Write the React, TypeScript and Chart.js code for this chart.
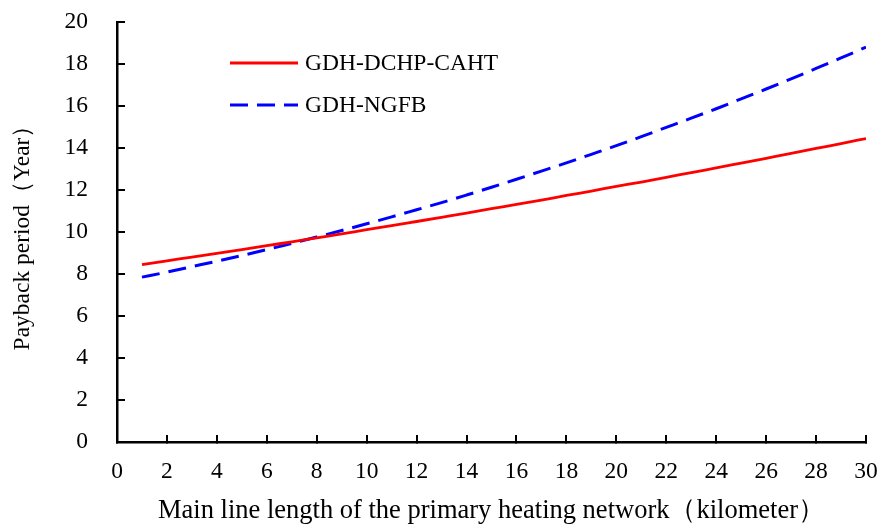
import React, { useEffect, useRef } from "react";
import { Chart, registerables } from "chart.js";

Chart.register(...registerables);

const lengthKm = [1, 2, 3, 4, 5, 6, 7, 8, 9, 10, 11, 12, 13, 14, 15, 16, 17, 18, 19, 20, 21, 22, 23, 24, 25, 26, 27, 28, 29, 30];
const dchpCaht = [8.45, 8.63, 8.8, 8.98, 9.16, 9.35, 9.53, 9.72, 9.91, 10.11, 10.3, 10.5, 10.7, 10.9, 11.11, 11.31, 11.52, 11.74, 11.95, 12.17, 12.38, 12.6, 12.83, 13.05, 13.28, 13.51, 13.74, 13.98, 14.21, 14.45];
const ngfb = [7.85, 8.09, 8.35, 8.61, 8.88, 9.16, 9.46, 9.76, 10.07, 10.39, 10.72, 11.06, 11.4, 11.76, 12.13, 12.51, 12.9, 13.29, 13.7, 14.11, 14.54, 14.98, 15.42, 15.87, 16.34, 16.81, 17.29, 17.79, 18.29, 18.8];
const seriesLabels = ["GDH-DCHP-CAHT", "GDH-NGFB"];
const xTitle = "Main line length of the primary heating network（kilometer）";
const yTitle = "Payback period（Year）";

const FONT = "'Liberation Serif', 'Times New Roman', serif";
const FS = 23.5;

const legendPlugin = {
  id: "insideLegend",
  afterDatasetsDraw(chart: any) {
    const ctx = chart.ctx;
    const x0 = 230;
    const x1 = 298;
    const ys = [63, 105];
    chart.data.datasets.forEach((ds: any, i: number) => {
      const y = ys[i];
      ctx.save();
      ctx.strokeStyle = ds.borderColor;
      ctx.lineWidth = ds.borderWidth;
      ctx.setLineDash(ds.borderDash || []);
      ctx.beginPath();
      ctx.moveTo(x0, y);
      ctx.lineTo(x1, y);
      ctx.stroke();
      ctx.setLineDash([]);
      ctx.fillStyle = "#000";
      ctx.font = `${FS}px ${FONT}`;
      ctx.textBaseline = "middle";
      ctx.textAlign = "left";
      ctx.fillText(ds.label, 305, y + 1);
      ctx.restore();
    });
  },
};

export default function App() {
  const ref = useRef<HTMLCanvasElement | null>(null);
  useEffect(() => {
    if (!ref.current) return;
    const chart = new Chart(ref.current, {
      type: "line",
      data: {
        datasets: [
          {
            label: seriesLabels[0],
            data: lengthKm.map((x, i) => ({ x, y: dchpCaht[i] })),
            borderColor: "#ff0000",
            borderWidth: 2.8,
            pointRadius: 0,
            cubicInterpolationMode: "monotone",
          },
          {
            label: seriesLabels[1],
            data: lengthKm.map((x, i) => ({ x, y: ngfb[i] })),
            borderColor: "#0000ff",
            borderWidth: 3,
            borderDash: [18, 9],
            pointRadius: 0,
            cubicInterpolationMode: "monotone",
          },
        ],
      },
      options: {
        animation: false,
        responsive: true,
        maintainAspectRatio: false,
        layout: { padding: { left: 0, right: 16, top: 22, bottom: 0 } },
        plugins: { legend: { display: false }, tooltip: { enabled: false } },
        scales: {
          x: {
            type: "linear",
            min: 0,
            max: 30,
            afterFit: (s: any) => {
              s.height = 85;
              s.paddingLeft = 0;
              s.paddingRight = 0;
            },
            ticks: {
              stepSize: 2,
              color: "#000",
              padding: 23,
              maxRotation: 0,
              font: { family: FONT, size: FS },
            },
            grid: {
              drawOnChartArea: false,
              drawTicks: true,
              tickLength: -7,
              color: "#000",
              lineWidth: 2,
            },
            border: { color: "#000", width: 2.5 },
            title: {
              display: true,
              text: xTitle,
              color: "#000",
              padding: { top: 0, bottom: 0 },
              font: { family: FONT, size: 26.5 },
            },
          },
          y: {
            min: 0,
            max: 20,
            afterFit: (s: any) => {
              s.width = 117;
              s.paddingTop = 0;
              s.paddingBottom = 0;
            },
            ticks: {
              stepSize: 2,
              color: "#000",
              padding: 37,
              font: { family: FONT, size: FS },
            },
            grid: {
              drawOnChartArea: false,
              drawTicks: true,
              tickLength: -8,
              color: "#000",
              lineWidth: 2,
            },
            border: { color: "#000", width: 2.5 },
            title: {
              display: true,
              text: yTitle,
              color: "#000",
              padding: { top: 9, bottom: 0 },
              font: { family: FONT, size: FS },
            },
          },
        },
      },
      plugins: [legendPlugin],
    });
    return () => chart.destroy();
  }, []);
  return (
    <div style={{ position: "fixed", left: 0, top: 0, width: 882, height: 527, background: "#fff" }}>
      <canvas ref={ref} />
    </div>
  );
}
